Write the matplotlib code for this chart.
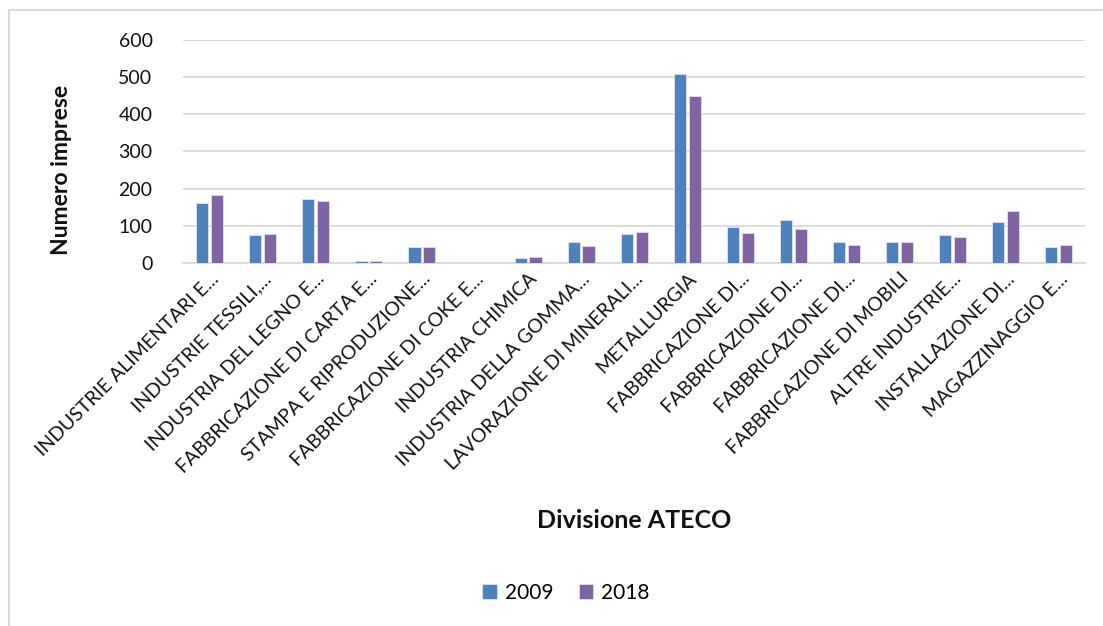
import numpy as np
import matplotlib.pyplot as plt
from matplotlib.patches import Rectangle

plt.rcParams['font.family'] = ['Lato', 'DejaVu Sans']

categories = ['INDUSTRIE ALIMENTARI E...', 'INDUSTRIE TESSILI,...', 'INDUSTRIA DEL LEGNO E...',
              'FABBRICAZIONE DI CARTA E...', 'STAMPA E RIPRODUZIONE...', 'FABBRICAZIONE DI COKE E...',
              'INDUSTRIA CHIMICA', 'INDUSTRIA DELLA GOMMA...', 'LAVORAZIONE DI MINERALI...',
              'METALLURGIA', 'FABBRICAZIONE DI...', 'FABBRICAZIONE DI...', 'FABBRICAZIONE DI...',
              'FABBRICAZIONE DI MOBILI', 'ALTRE INDUSTRIE...', 'INSTALLAZIONE DI...',
              'MAGAZZINAGGIO E...']
vals_2009 = [160, 74, 171, 4, 42, 0, 12, 56, 77, 508, 98, 115, 56, 56, 74, 111, 42]
vals_2018 = [184, 77, 167, 4, 42, 0, 15, 45, 83, 450, 80, 91, 48, 56, 70, 139, 49]
series_names = ['2009', '2018']
yticks = [0, 100, 200, 300, 400, 500, 600]

blue = '#4F81BD'
purple = '#8064A2'
grid_col = '#d9d9d9'

fig = plt.figure(figsize=(11.03, 6.26), dpi=100)
ax = fig.add_axes([0.166, 0.580, 0.818, 0.356])

# outer chart border (cut off at right and bottom)
fig.patches.append(Rectangle((9 / 1103, -0.1), 1.2, 1.1 - 10 / 626,
                             transform=fig.transFigure, fill=False,
                             edgecolor=grid_col, linewidth=1.5))

x = np.arange(len(categories))
w = 0.23
ax.bar(x - 0.14, vals_2009, w, color=blue, edgecolor='#dce6f2', linewidth=0.6,
       label=series_names[0], zorder=3)
ax.bar(x + 0.14, vals_2018, w, color=purple, edgecolor='#e4dcee', linewidth=0.6,
       label=series_names[1], zorder=3)

ax.set_xlim(-0.5, len(categories) - 0.5)
ax.set_ylim(0, 600)
ax.set_yticks(yticks)
ax.set_yticklabels([str(t) for t in yticks], fontsize=14, color='#111111')
ax.yaxis.grid(True, color=grid_col, linewidth=1.3, zorder=0)
ax.set_axisbelow(True)
ax.tick_params(length=0, pad=22, axis='y')
ax.tick_params(length=0, pad=5, axis='x')
for s in ['top', 'right', 'left']:
    ax.spines[s].set_visible(False)
ax.spines['bottom'].set_color(grid_col)
ax.spines['bottom'].set_linewidth(1.3)

ax.set_xticks(x)
ax.set_xticklabels(categories, rotation=45, ha='right', rotation_mode='anchor',
                   fontsize=14, color='#111111')

fig.text(62 / 1103, 1 - 170 / 626, 'Numero imprese', rotation=90, ha='center', va='center',
         fontsize=16.5, fontweight='bold', color='#111111')
fig.text(634 / 1103, 1 - 520 / 626, 'Divisione ATECO', ha='center', va='center',
         fontsize=18, fontweight='bold', color='#111111')

fig.legend(loc='center', bbox_to_anchor=(566 / 1103, 1 - 593 / 626), ncol=2, frameon=False,
           fontsize=15, handlelength=0.7, handleheight=0.7, handletextpad=0.4,
           columnspacing=1.2)

fig.savefig('out.png', dpi=100)
